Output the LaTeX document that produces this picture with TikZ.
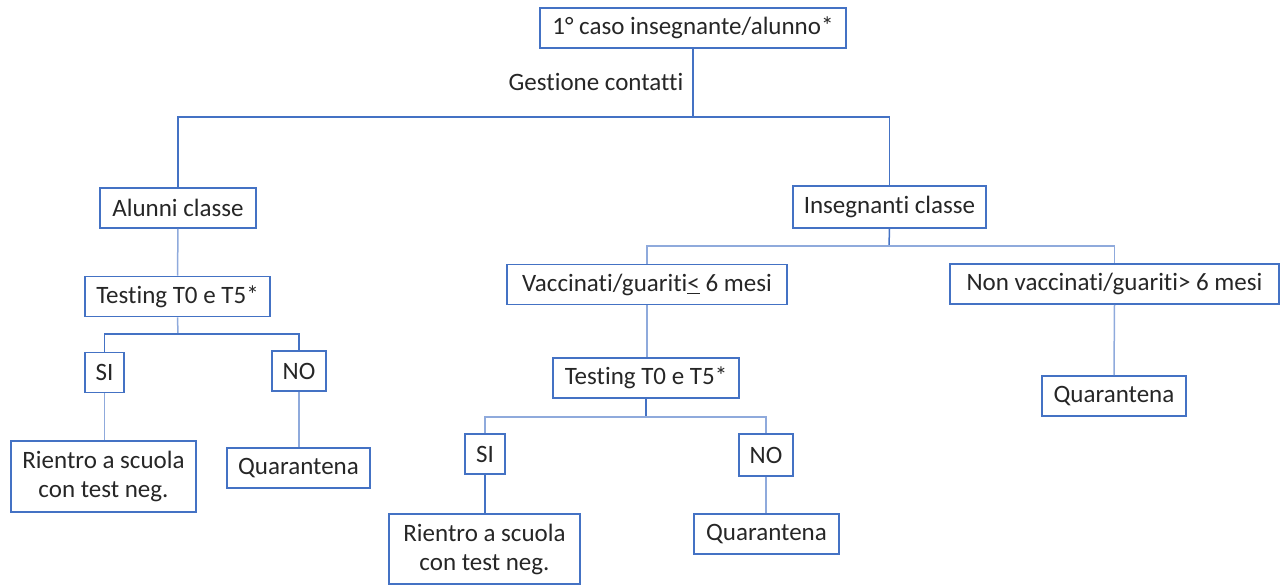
\documentclass[tikz,border=0pt]{standalone}
\usepackage{fontspec}
\setmainfont{Carlito}[Ligatures=NoCommon]
\begin{document}
\begin{tikzpicture}[
  x=0.5pt, y=-0.5pt,
  every node/.style = {font=\fontsize{12.5}{14.5}\selectfont, text=black!85},
  box/.style = {shape=rectangle, draw=boxblue, line width=0.8pt,
    align=center, inner sep=0pt, minimum height=20pt},
  link/.style = {draw=boxblue, line width=0.75pt},
  palelink/.style = {draw=paleblue, line width=0.75pt}
  ]
  \definecolor{boxblue}{HTML}{4472C4}
  \definecolor{paleblue}{HTML}{8FAADC}
  \useasboundingbox (0,0) rectangle (1287,585);
  % top
  \node[box, minimum width=153pt] (caso) at (693,28) {1° caso insegnante/alunno*};
  \node (gestione) at (596,82) {Gestione contatti};
  \node[box, minimum width=78pt] (alunni) at (178,208) {Alunni classe};
  \node[box, minimum width=96.5pt, minimum height=21pt] (insegn) at (889.5,207) {Insegnanti classe};
  % alunni
  \node[box, minimum width=92.5pt] (testA) at (177.5,296.5) {Testing T0 e T5*};
  \node[box, minimum width=19.5pt] (siA) at (104.5,372.5) {SI};
  \node[box, minimum width=27pt] (noA) at (299,371) {NO};
  \node[box, minimum width=92.5pt, minimum height=35.5pt] (rientroA) at (103.5,476.5) {Rientro a scuola\\con test neg.};
  \node[box, minimum width=71.5pt] (quarA) at (298.5,468) {Quarantena};
  % insegnanti
  \node[box, minimum width=140pt] (vacc) at (647,284.5) {Vaccinati/guariti\underline{<} 6 mesi};
  \node[box, minimum width=164.5pt] (nonvacc) at (1114.5,284) {Non vaccinati/guariti> 6 mesi};
  \node[box, minimum width=72pt] (quarC) at (1114,396) {Quarantena};
  \node[box, minimum width=93pt] (testB) at (646,378) {Testing T0 e T5*};
  \node[box, minimum width=20pt] (siB) at (485,454) {SI};
  \node[box, minimum width=27pt, minimum height=21pt] (noB) at (766,455) {NO};
  \node[box, minimum width=95.5pt, minimum height=35pt] (rientroB) at (484.5,549) {Rientro a scuola\\con test neg.};
  \node[box, minimum width=72.5pt] (quarB) at (766.5,534) {Quarantena};
  % connectors
  \coordinate (split1) at (693,117);
  \coordinate (split2) at (178,334);
  \coordinate (split3) at (889,246);
  \coordinate (split4) at (646,417);
  \draw[link] (caso.south) -- (split1);
  \draw[link] (alunni.north) |- (split1) -| (insegn.north);
  \draw[palelink] (alunni.south) -- (testA.north);
  \draw[palelink] (testA.south) -- (split2);
  \draw[link] (siA.north) |- (split2) -| (noA.north);
  \draw[palelink] (siA.south) -- (rientroA.north -| siA.south);
  \draw[palelink] (noA.south) -- (quarA.north -| noA.south);
  \draw[link] (insegn.south) -- (split3);
  \draw[palelink] (vacc.north) |- (split3) -| (nonvacc.north);
  \draw[palelink] (nonvacc.south) -- (quarC.north);
  \draw[palelink] (vacc.south) -- (testB.north -| vacc.south);
  \draw[link] (testB.south) -- (split4);
  \draw[palelink] (siB.north) |- (split4) -| (noB.north);
  \draw[link] (siB.south) -- (rientroB.north -| siB.south);
  \draw[palelink] (noB.south) -- (quarB.north -| noB.south);
\end{tikzpicture}
\end{document}
